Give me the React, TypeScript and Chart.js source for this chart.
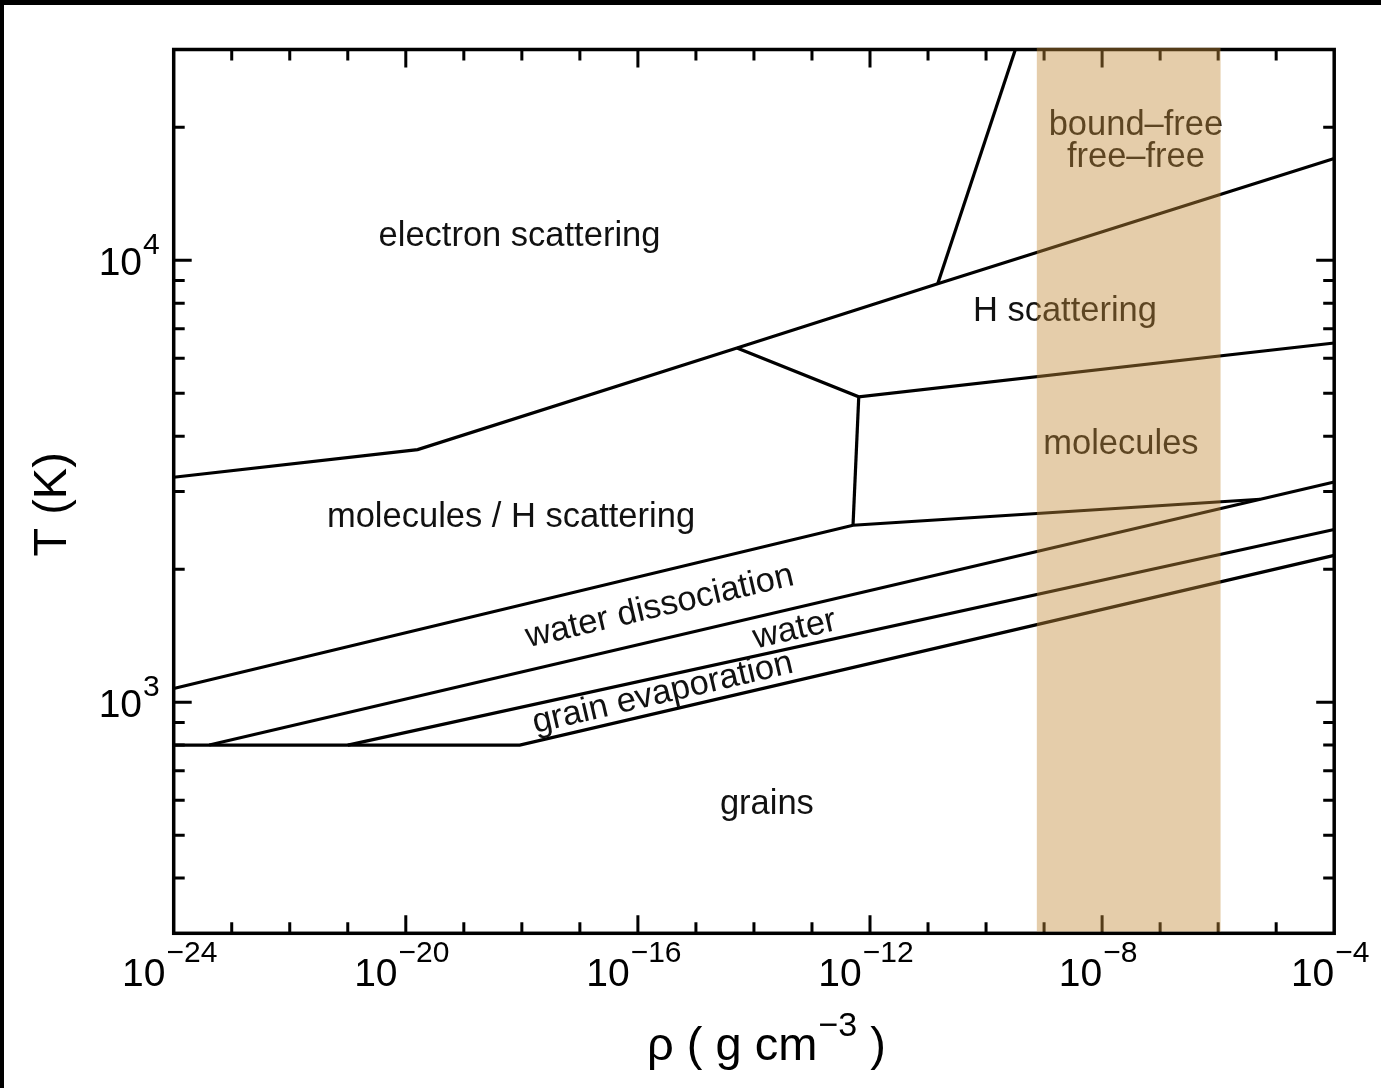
import React, { useEffect, useRef } from "react";
import { Chart, registerables } from "chart.js";

Chart.register(...registerables);

const W = 1381;
const H = 1088;
const FONT = "'Liberation Sans', Arial, Helvetica, sans-serif";

// Axis ranges
const RHO_MIN = 1e-24;
const RHO_MAX = 1e-4;
const T_MIN = 300;
const T_MAX = 30000;

// Labelled decades on each axis (exponents of ten)
const rhoTickExponents = [-24, -20, -16, -12, -8, -4];
const tTickExponents = [3, 4];

// Regime boundaries: density (g cm^-3) and temperature (K) at each vertex
const electronEdgeRho = [1e-24, 1.6e-20, 5.1e-15, 1.47e-11, 1e-4];
const electronEdgeT = [3230, 3730, 6330, 8850, 17000];
const boundFreeEdgeRho = [1.47e-11, 3.2e-10];
const boundFreeEdgeT = [8850, 30000];
const hScatterEdgeRho = [5.1e-15, 6.4e-13, 1e-4];
const hScatterEdgeT = [6330, 4910, 6500];
const moleculeWallRho = [6.4e-13, 5.1e-13];
const moleculeWallT = [4910, 2515];
const dissociationTopRho = [1e-24, 5.1e-13, 5.3e-6];
const dissociationTopT = [1074, 2515, 2880];
const dissociationBottomRho = [4.1e-24, 1e-4];
const dissociationBottomT = [800, 3150];
const evaporationTopRho = [1e-21, 1e-4];
const evaporationTopT = [800, 2460];
const evaporationBottomRho = [1e-24, 9.2e-19, 1e-4];
const evaporationBottomT = [800, 800, 2150];

// Shaded density interval
const bandRho = [7.5e-10, 1.1e-6];

// Region names, anchored at (density, temperature) with a text angle in degrees
const regionNames = ["electron scattering", "molecules / H scattering", "H scattering", "bound\u2013free", "free\u2013free", "molecules", "water dissociation", "water", "grain evaporation", "grains"];
const regionRho = [9.1e-19, 6.5e-19, 2.29e-9, 3.83e-8, 3.83e-8, 2.11e-8, 2.6e-16, 5.5e-14, 2.92e-16, 1.67e-14];
const regionT = [10775, 2488, 7290, 19210, 16290, 3646, 1567, 1390, 998, 558];
const regionAngle = [0, 0, 0, 0, 0, 0, -13.2, -12.8, -13.2, 0];

const boundaries = [
  { rho: electronEdgeRho, T: electronEdgeT },
  { rho: boundFreeEdgeRho, T: boundFreeEdgeT },
  { rho: hScatterEdgeRho, T: hScatterEdgeT },
  { rho: moleculeWallRho, T: moleculeWallT },
  { rho: dissociationTopRho, T: dissociationTopT },
  { rho: dissociationBottomRho, T: dissociationBottomT },
  { rho: evaporationTopRho, T: evaporationTopT },
  { rho: evaporationBottomRho, T: evaporationBottomT },
];

function drawPower(
  ctx: CanvasRenderingContext2D,
  exp: number,
  x: number,
  y: number,
  align: "center" | "right",
  baseSize: number,
  expSize: number,
  rise: number
) {
  const base = "10";
  const sup = exp < 0 ? "\u2212" + Math.abs(exp) : String(exp);
  ctx.font = `${baseSize}px ${FONT}`;
  const wb = ctx.measureText(base).width;
  ctx.font = `${expSize}px ${FONT}`;
  const ws = ctx.measureText(sup).width;
  const total = wb + 1 + ws;
  const left = align === "center" ? x - total / 2 : x - total;
  ctx.textAlign = "left";
  ctx.textBaseline = "alphabetic";
  ctx.font = `${baseSize}px ${FONT}`;
  ctx.fillText(base, left, y);
  ctx.font = `${expSize}px ${FONT}`;
  ctx.fillText(sup, left + wb + 1, y - rise);
}

const backdropPlugin = {
  id: "backdrop",
  beforeDraw(chart: any) {
    const ctx = chart.ctx as CanvasRenderingContext2D;
    ctx.save();
    ctx.fillStyle = "#fff";
    ctx.fillRect(0, 0, chart.width, chart.height);
    ctx.fillStyle = "#000";
    ctx.fillRect(0, 0, chart.width, 5);
    ctx.fillRect(0, 0, 4, chart.height);
    ctx.restore();
  },
};

const framePlugin = {
  id: "frame",
  afterDatasetsDraw(chart: any) {
    const ctx = chart.ctx as CanvasRenderingContext2D;
    const xs = chart.scales.x;
    const ys = chart.scales.y;
    const { left, right, top, bottom } = chart.chartArea;
    ctx.save();

    // region names
    ctx.fillStyle = "#111";
    ctx.textAlign = "center";
    ctx.textBaseline = "alphabetic";
    ctx.font = `34.5px ${FONT}`;
    regionNames.forEach((name, i) => {
      const px = xs.getPixelForValue(regionRho[i]);
      const py = ys.getPixelForValue(regionT[i]);
      ctx.save();
      ctx.translate(px, py);
      ctx.rotate((regionAngle[i] * Math.PI) / 180);
      ctx.fillText(name, 0, 0);
      ctx.restore();
    });

    // inward tick marks on all four sides
    ctx.strokeStyle = "#000";
    ctx.lineWidth = 3;
    ctx.lineCap = "butt";
    const major = 18;
    const minor = 11;
    for (let e = -23; e <= -5; e++) {
      const px = xs.getPixelForValue(Math.pow(10, e));
      const len = rhoTickExponents.includes(e) ? major : minor;
      ctx.beginPath();
      ctx.moveTo(px, bottom);
      ctx.lineTo(px, bottom - len);
      ctx.moveTo(px, top);
      ctx.lineTo(px, top + len);
      ctx.stroke();
    }
    for (let d = 2; d <= 4; d++) {
      for (let m = 1; m <= 9; m++) {
        const v = m * Math.pow(10, d);
        if (v <= T_MIN || v >= T_MAX) continue;
        const py = ys.getPixelForValue(v);
        const len = m === 1 ? major : minor;
        ctx.beginPath();
        ctx.moveTo(left, py);
        ctx.lineTo(left + len, py);
        ctx.moveTo(right, py);
        ctx.lineTo(right - len, py);
        ctx.stroke();
      }
    }

    // frame
    ctx.lineWidth = 3.5;
    ctx.strokeRect(left, top, right - left, bottom - top);

    // tick labels
    ctx.fillStyle = "#000";
    rhoTickExponents.forEach((e) => {
      const px = xs.getPixelForValue(Math.pow(10, e));
      drawPower(ctx, e, px - 4, bottom + 53, "center", 39, 30, 24);
    });
    tTickExponents.forEach((e) => {
      const py = ys.getPixelForValue(Math.pow(10, e));
      drawPower(ctx, e, left - 14, py + 15, "right", 39, 30, 21);
    });

    // axis titles
    ctx.save();
    ctx.translate(53, (top + bottom) / 2 + 13);
    ctx.rotate(-Math.PI / 2);
    ctx.textAlign = "center";
    ctx.textBaseline = "middle";
    ctx.font = `47px ${FONT}`;
    ctx.fillText("T (K)", 0, 0);
    ctx.restore();

    const partA = "\u03c1 ( g cm";
    const partB = "\u22123";
    const partC = " )";
    ctx.font = `47px ${FONT}`;
    const wa = ctx.measureText(partA).width;
    const wc = ctx.measureText(partC).width;
    ctx.font = `34px ${FONT}`;
    const wbx = ctx.measureText(partB).width;
    const cx = (left + right) / 2 + 12;
    const tx = cx - (wa + wbx + wc) / 2;
    const ty = bottom + 127;
    ctx.textAlign = "left";
    ctx.textBaseline = "alphabetic";
    ctx.font = `47px ${FONT}`;
    ctx.fillText(partA, tx, ty);
    ctx.font = `34px ${FONT}`;
    ctx.fillText(partB, tx + wa + 1, ty - 24);
    ctx.font = `47px ${FONT}`;
    ctx.fillText(partC, tx + wa + wbx + 1, ty);

    // translucent density band laid over everything inside the frame
    const bx1 = xs.getPixelForValue(bandRho[0]);
    const bx2 = xs.getPixelForValue(bandRho[1]);
    ctx.fillStyle = "rgba(195, 138, 57, 0.43)";
    ctx.fillRect(bx1, top - 1.75, bx2 - bx1, bottom - top);

    ctx.restore();
  },
};

export default function App() {
  const ref = useRef<HTMLCanvasElement>(null);

  useEffect(() => {
    const canvas = ref.current;
    if (!canvas) return;
    const chart = new Chart(canvas, {
      type: "scatter",
      data: {
        datasets: boundaries.map((b, k) => ({
          label: "boundary " + (k + 1),
          data: b.rho.map((r, i) => ({ x: r, y: b.T[i] })),
          showLine: true,
          borderColor: "#000",
          borderWidth: 3.2,
          borderJoinStyle: "miter" as const,
          pointRadius: 0,
          pointHoverRadius: 0,
          fill: false,
          tension: 0,
        })),
      },
      options: {
        responsive: false,
        animation: false,
        devicePixelRatio: 1,
        events: [],
        layout: { padding: { left: 173.7, right: 46.8, top: 49.5, bottom: 154.7 } },
        plugins: { legend: { display: false }, tooltip: { enabled: false } },
        scales: {
          x: { type: "logarithmic", min: RHO_MIN, max: RHO_MAX, display: false },
          y: { type: "logarithmic", min: T_MIN, max: T_MAX, display: false },
        },
      },
      plugins: [backdropPlugin, framePlugin],
    });
    return () => chart.destroy();
  }, []);

  return (
    <div style={{ position: "fixed", left: 0, top: 0, width: W, height: H }}>
      <canvas ref={ref} width={W} height={H} style={{ display: "block", width: W, height: H }} />
    </div>
  );
}
